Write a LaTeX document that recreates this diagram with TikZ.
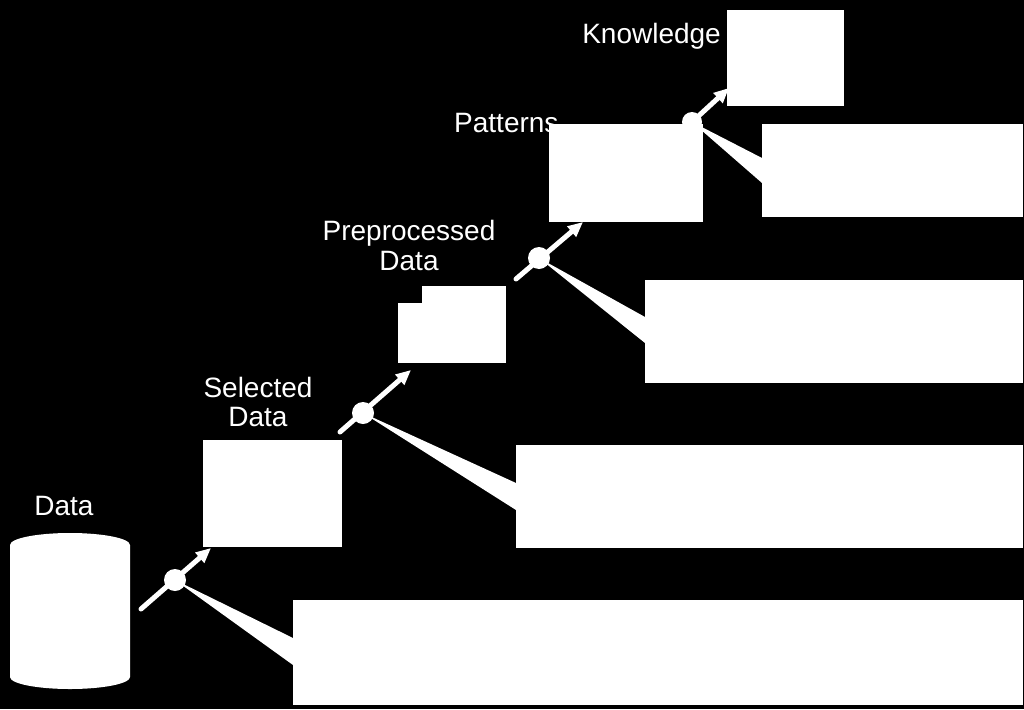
\documentclass[tikz,border=0pt]{standalone}
\usepackage{fontspec}
\setmainfont{Liberation Sans}
\usetikzlibrary{arrows.meta}
\begin{document}
\begin{tikzpicture}[x=1pt,y=-1pt,
  box/.style={fill=white,draw=none,inner sep=0pt,anchor=north west},
  lbl/.style={text=white,font=\fontsize{28}{30}\selectfont,align=center,inner sep=0pt},
  conn/.style={draw=white,line width=5pt,line cap=round,-{Triangle[length=15pt,width=13pt]}},
  dot/.style={fill=white},
  wedge/.style={fill=white}]
\fill[black] (0,0) rectangle (1024,709);
\useasboundingbox (0,0) rectangle (1024,709);
% labels
\node[lbl,anchor=base] (ldata) at (64,515) {Data};
\node[lbl,anchor=base] (lsel1) at (258,397) {Selected};
\node[lbl,anchor=base] (lsel2) at (258,426) {Data};
\node[lbl,anchor=base] (lpre1) at (409,240) {Preprocessed};
\node[lbl,anchor=base] (lpre2) at (409,270) {Data};
\node[lbl,anchor=base west] (lpat) at (454,132) {Patterns};
\node[lbl,anchor=base east] (lknow) at (721,44) {Knowledge};
% data cylinder
\fill[white] (10,545) arc[start angle=180,end angle=360,x radius=60,y radius=12]
  -- (130,677) arc[start angle=0,end angle=180,x radius=60,y radius=12] -- cycle;
\coordinate (cyl) at (70,610);
% stage boxes
\node[box,minimum width=139pt,minimum height=107pt] (sel) at (203,440) {};
\node[box,minimum width=108pt,minimum height=60pt] (pre) at (398,303) {};
\node[box,minimum width=84pt,minimum height=20pt] (pretop) at (422,286) {};
\node[box,minimum width=154pt,minimum height=98pt] (pat) at (549,124) {};
\node[box,minimum width=117pt,minimum height=96pt] (know) at (727,10) {};
% description boxes
\node[box,minimum width=730pt,minimum height=105pt] (b1) at (293,600) {};
\node[box,minimum width=507pt,minimum height=103pt] (b2) at (516,445) {};
\node[box,minimum width=378pt,minimum height=103pt] (b3) at (645,280) {};
\node[box,minimum width=261pt,minimum height=93pt] (b4) at (762,124) {};
% connectors
\coordinate (s1) at (141,609); \coordinate (d1) at (175,580); \coordinate (t1) at (211,548);
\coordinate (s2) at (340,432); \coordinate (d2) at (363,413); \coordinate (t2) at (411,370);
\coordinate (s3) at (516,279); \coordinate (d3) at (539,258); \coordinate (t3) at (583,222);
\coordinate (s4) at (680,133); \coordinate (d4) at (692,122); \coordinate (t4) at (729,88);
\draw[conn] (s1) -- (t1);
\draw[conn] (s2) -- (t2);
\draw[conn] (s3) -- (t3);
\draw[conn] (s4) -- (t4);
\fill[wedge] (d1) -- (b1.west |- 0,638) -- (b1.west |- 0,665) -- cycle;
\fill[wedge] (d2) -- (b2.west |- 0,483) -- (b2.west |- 0,510) -- cycle;
\fill[wedge] (d3) -- (b3.west |- 0,317) -- (b3.west |- 0,343) -- cycle;
\fill[wedge] (d4) -- (b4.west |- 0,158) -- (b4.west |- 0,183) -- cycle;
\fill[dot] (d1) circle[radius=11];
\fill[dot] (d2) circle[radius=11];
\fill[dot] (d3) circle[radius=11];
\fill[dot] (d4) circle[radius=10];
\end{tikzpicture}
\end{document}
